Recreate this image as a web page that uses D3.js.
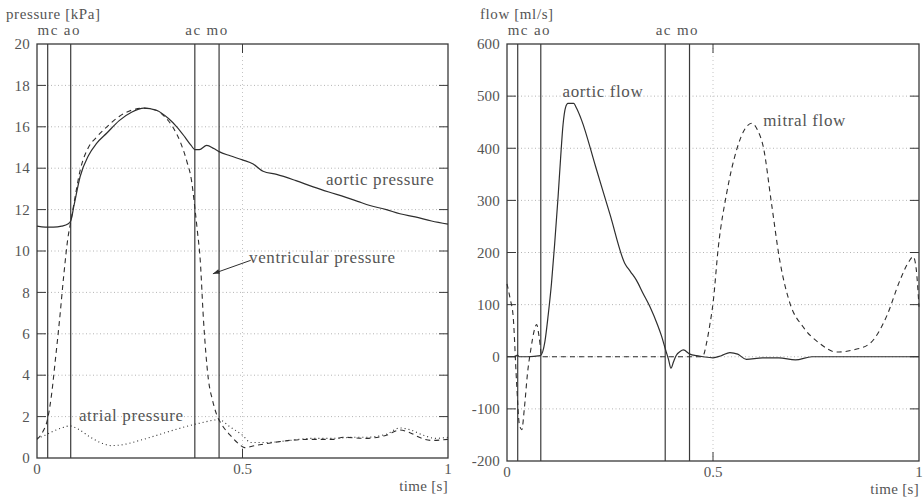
<!DOCTYPE html>
<html>
<head>
<meta charset="utf-8">
<script src="https://cdn.jsdelivr.net/npm/d3@7"></script>
<style>
  html, body { margin: 0; padding: 0; background: #fff; }
  svg text { font-family: "Liberation Serif", "DejaVu Serif", serif; fill: #555; }
</style>
</head>
<body>
<svg id="chart" width="924" height="501"></svg>
<script>
// ---- Pressure panel data (time in s, pressure in kPa) ----
const aorticPressureT = [0, 0.02, 0.04, 0.06, 0.075, 0.082, 0.09, 0.105, 0.125, 0.145, 0.17, 0.2, 0.23, 0.26, 0.29, 0.32, 0.34, 0.36, 0.375, 0.384, 0.395, 0.413, 0.43, 0.443, 0.47, 0.5, 0.526, 0.55, 0.583, 0.63, 0.672, 0.71, 0.75, 0.78, 0.81, 0.85, 0.883, 0.92, 0.96, 1.0];
const aorticPressure  = [11.2, 11.15, 11.15, 11.2, 11.3, 11.45, 12.2, 13.6, 14.6, 15.2, 15.7, 16.3, 16.7, 16.9, 16.8, 16.4, 16.0, 15.5, 15.1, 14.9, 14.9, 15.1, 14.95, 14.8, 14.6, 14.4, 14.2, 13.85, 13.7, 13.4, 13.1, 12.85, 12.6, 12.4, 12.2, 12.0, 11.8, 11.65, 11.45, 11.3];

const ventPressureT = [0, 0.015, 0.026, 0.035, 0.045, 0.055, 0.065, 0.075, 0.082, 0.09, 0.105, 0.125, 0.145, 0.17, 0.2, 0.23, 0.26, 0.29, 0.31, 0.33, 0.35, 0.365, 0.376, 0.384, 0.39, 0.397, 0.405, 0.417, 0.427, 0.437, 0.45, 0.47, 0.49, 0.505, 0.53, 0.56, 0.615, 0.67, 0.72, 0.745, 0.8, 0.85, 0.883, 0.91, 0.93, 0.96, 1.0];
const ventPressure  = [0.9, 1.3, 1.9, 3.0, 4.8, 6.7, 8.8, 10.6, 11.4, 12.3, 13.9, 15.0, 15.5, 16.0, 16.5, 16.8, 16.9, 16.8, 16.5, 16.0, 15.2, 14.3, 13.4, 12.1, 11.0, 9.6, 6.7, 3.8, 2.8, 2.1, 1.6, 1.1, 0.7, 0.5, 0.6, 0.7, 0.85, 0.9, 0.9, 1.0, 0.95, 1.1, 1.35, 1.2, 1.0, 0.85, 0.9];

const atrialPressureT = [0, 0.02, 0.04, 0.06, 0.08, 0.1, 0.13, 0.16, 0.18, 0.2, 0.25, 0.3, 0.35, 0.4, 0.443, 0.47, 0.5, 0.52, 0.56, 0.615, 0.67, 0.72, 0.77, 0.8, 0.85, 0.883, 0.91, 0.94, 0.97, 1.0];
const atrialPressure  = [0.95, 1.1, 1.3, 1.45, 1.55, 1.4, 1.0, 0.7, 0.6, 0.62, 0.85, 1.15, 1.45, 1.7, 1.85, 1.5, 1.1, 0.75, 0.75, 0.85, 0.95, 0.95, 1.0, 1.0, 1.15, 1.45, 1.35, 1.1, 0.95, 1.0];

// ---- Flow panel data (time in s, flow in ml/s) ----
const aorticFlowT = [0, 0.02, 0.025, 0.03, 0.05, 0.081, 0.092, 0.1, 0.108, 0.116, 0.124, 0.13, 0.136, 0.142, 0.148, 0.162, 0.168, 0.181, 0.215, 0.25, 0.286, 0.3, 0.314, 0.33, 0.347, 0.365, 0.375, 0.385, 0.392, 0.398, 0.404, 0.411, 0.42, 0.428, 0.444, 0.46, 0.476, 0.5, 0.52, 0.541, 0.56, 0.581, 0.62, 0.66, 0.7, 0.74, 0.8, 0.9, 1.0];
const aorticFlow  = [0, 0, 3, 0, 0, 2, 29, 80, 141, 220, 307, 380, 445, 478, 486, 486, 478, 454, 365, 273, 179, 163, 147, 122, 96, 62, 40, 13, -5, -22, -10, 3, 10, 13, 5, 2, 0, -2, 2, 8, 5, -5, -2, -2, -6, 0, 0, 0, 0];

const mitralFlowT = [0, 0.008, 0.015, 0.023, 0.03, 0.036, 0.042, 0.05, 0.058, 0.066, 0.072, 0.078, 0.085, 0.1, 0.3, 0.47, 0.476, 0.484, 0.492, 0.5, 0.513, 0.533, 0.557, 0.58, 0.594, 0.608, 0.622, 0.642, 0.662, 0.687, 0.719, 0.76, 0.8, 0.84, 0.88, 0.921, 0.954, 0.975, 0.986, 0.993, 1.0];
const mitralFlow  = [140, 110, 77, -45, -130, -140, -100, -30, 15, 50, 62, 38, 0, 0, 0, 0, 2, 25, 60, 102, 211, 313, 396, 440, 448, 435, 403, 294, 185, 102, 57, 25, 9, 13, 25, 77, 147, 182, 192, 170, 96];

// ---- Valve events (s) and axis ticks ----
const valveNames = ["mc", "ao", "ac", "mo"];
const valveTimes = [0.026, 0.082, 0.384, 0.443];
const timeTicks = [0, 0.5, 1];
const timeTickLabels = ["0", "0.5", "1"];
const pressureTicks = [0, 2, 4, 6, 8, 10, 12, 14, 16, 18, 20];
const flowTicks = [-200, -100, 0, 100, 200, 300, 400, 500, 600];

const svg = d3.select("#chart");
const axisColor = "#3a3a3a";
const lineColor = "#2e2e2e";

function zip(ts, vs) { return ts.map((t, i) => [t, vs[i]]); }

function label(g, x, y, txt, size, spacing, anchor) {
  return g.append("text").attr("x", x).attr("y", y)
    .attr("font-size", size).attr("letter-spacing", spacing)
    .attr("text-anchor", anchor || "start").text(txt);
}

function drawPanel(cfg) {
  const x = d3.scaleLinear().domain([0, 1]).range([cfg.left, cfg.right]);
  const y = d3.scaleLinear().domain(cfg.yDomain).range([cfg.bottom, cfg.top]);
  const g = svg.append("g");

  // dotted grid
  g.selectAll("line.hgrid").data(cfg.yTicks.slice(1, -1)).join("line")
    .attr("x1", cfg.left).attr("x2", cfg.right)
    .attr("y1", d => y(d)).attr("y2", d => y(d))
    .attr("stroke", "#b4b4b4").attr("stroke-width", 1).attr("stroke-dasharray", "1,2.5");
  g.append("line")
    .attr("x1", x(0.5)).attr("x2", x(0.5)).attr("y1", cfg.top).attr("y2", cfg.bottom)
    .attr("stroke", "#c4c4c4").attr("stroke-width", 1).attr("stroke-dasharray", "1,3");

  // inward ticks on left/right and at t = 0.5 top/bottom
  const tl = 9;
  g.selectAll("line.tl").data(cfg.yTicks.slice(1, -1)).join("line")
    .attr("x1", cfg.left).attr("x2", cfg.left + tl).attr("y1", d => y(d)).attr("y2", d => y(d))
    .attr("stroke", axisColor).attr("stroke-width", 1);
  g.selectAll("line.tr").data(cfg.yTicks.slice(1, -1)).join("line")
    .attr("x1", cfg.right - tl).attr("x2", cfg.right).attr("y1", d => y(d)).attr("y2", d => y(d))
    .attr("stroke", axisColor).attr("stroke-width", 1);
  [[cfg.top, cfg.top + tl], [cfg.bottom - tl, cfg.bottom]].forEach(([a, b]) => {
    g.append("line").attr("x1", x(0.5)).attr("x2", x(0.5)).attr("y1", a).attr("y2", b)
      .attr("stroke", axisColor).attr("stroke-width", 1);
  });

  // valve event lines
  g.selectAll("line.valve").data(valveTimes).join("line")
    .attr("x1", d => x(d)).attr("x2", d => x(d)).attr("y1", cfg.top).attr("y2", cfg.bottom)
    .attr("stroke", axisColor).attr("stroke-width", 1.2);

  // frame
  g.append("rect")
    .attr("x", cfg.left).attr("y", cfg.top)
    .attr("width", cfg.right - cfg.left).attr("height", cfg.bottom - cfg.top)
    .attr("fill", "none").attr("stroke", axisColor).attr("stroke-width", 1.3);

  // series
  const line = d3.line().x(d => x(d[0])).y(d => y(d[1])).curve(d3.curveMonotoneX);
  cfg.series.forEach(s => {
    g.append("path").attr("d", line(zip(s.t, s.v)))
      .attr("fill", "none").attr("stroke", lineColor).attr("stroke-width", s.w || 1.1)
      .attr("stroke-dasharray", s.dash || null);
  });

  // tick labels
  g.selectAll("text.yl").data(cfg.yTicks).join("text")
    .attr("x", cfg.left - 7).attr("y", d => y(d)).attr("dy", "0.35em")
    .attr("text-anchor", "end").attr("font-size", 15).attr("letter-spacing", 0.2).text(d => d);
  g.selectAll("text.xl").data(timeTicks).join("text")
    .attr("x", d => x(d)).attr("y", cfg.bottom + 16)
    .attr("text-anchor", "middle").attr("font-size", 15)
    .text((d, i) => timeTickLabels[i]);
  label(g, cfg.right, cfg.bottom + 33, "time [s]", 15, 0.3, "end");
  label(g, cfg.titleX, 19, cfg.title, 15, 0.6);

  // valve names above the frame
  label(g, (x(valveTimes[0]) + x(valveTimes[1])) / 2, 35, valveNames[0] + " " + valveNames[1], 15, 1.4, "middle");
  label(g, (x(valveTimes[2]) + x(valveTimes[3])) / 2, 35, valveNames[2] + " " + valveNames[3], 15, 1.4, "middle");

  return { g, x, y };
}

// left: pressures
const P = drawPanel({
  left: 37, right: 448, top: 44, bottom: 458,
  yDomain: [0, 20], yTicks: pressureTicks,
  title: "pressure [kPa]", titleX: 6,
  series: [
    { t: atrialPressureT, v: atrialPressure, dash: "1,3", w: 1.1 },
    { t: ventPressureT, v: ventPressure, dash: "5,4", w: 1.1 },
    { t: aorticPressureT, v: aorticPressure, w: 1.2 }
  ]
});
label(P.g, P.x(0.703), P.y(13.2), "aortic pressure", 17, 0.6);
label(P.g, P.x(0.516), P.y(9.4), "ventricular pressure", 17, 0.6);
label(P.g, P.x(0.102), P.y(1.8), "atrial pressure", 17, 0.6);
// pointer from the label to the falling ventricular curve
const ax0 = P.x(0.52), ay0 = P.y(9.55), ax1 = P.x(0.428), ay1 = P.y(8.9);
P.g.append("line").attr("x1", ax0).attr("y1", ay0).attr("x2", ax1).attr("y2", ay1)
  .attr("stroke", lineColor).attr("stroke-width", 1);
const ang = Math.atan2(ay1 - ay0, ax1 - ax0);
const ah = 7, aw = 0.35;
P.g.append("path")
  .attr("d", `M${ax1},${ay1} L${ax1 - ah * Math.cos(ang - aw)},${ay1 - ah * Math.sin(ang - aw)} L${ax1 - ah * Math.cos(ang + aw)},${ay1 - ah * Math.sin(ang + aw)} Z`)
  .attr("fill", lineColor);

// right: flows
const F = drawPanel({
  left: 507, right: 919, top: 44, bottom: 461,
  yDomain: [-200, 600], yTicks: flowTicks,
  title: "flow [ml/s]", titleX: 480,
  series: [
    { t: mitralFlowT, v: mitralFlow, dash: "5,4", w: 1.1 },
    { t: aorticFlowT, v: aorticFlow, w: 1.2 }
  ]
});
label(F.g, F.x(0.135), F.y(500) + 1, "aortic flow", 17, 0.6);
label(F.g, F.x(0.622), F.y(442), "mitral flow", 17, 0.6);
</script>
</body>
</html>
